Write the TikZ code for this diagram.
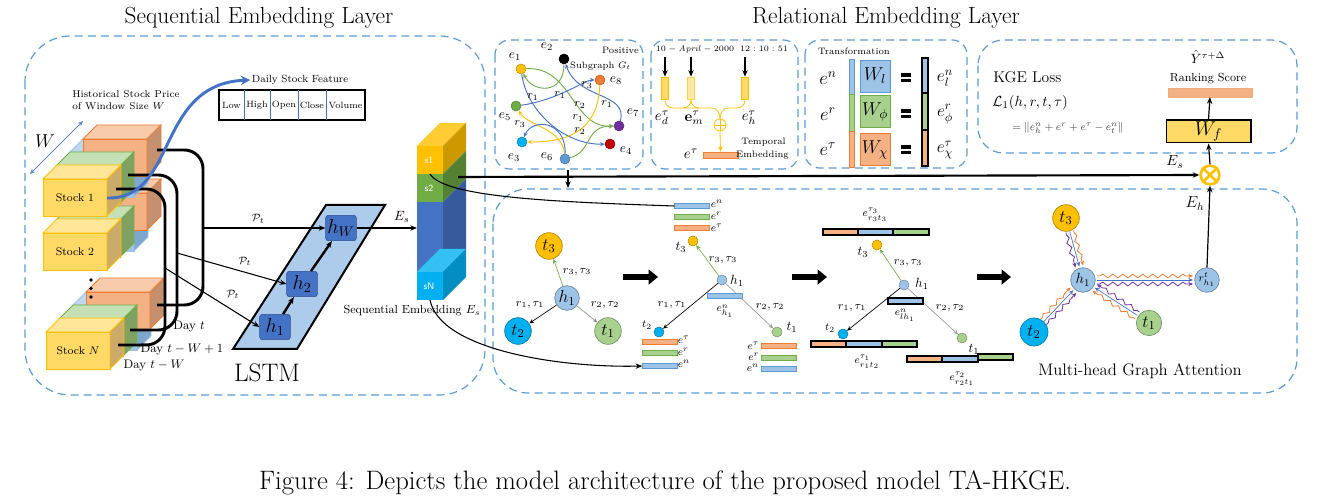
\RequirePackage{fix-cm}
\documentclass[tikz,border=0pt]{standalone}
\usepackage{amsmath,amssymb}
\usetikzlibrary{arrows.meta,decorations.pathmorphing,calc}
\definecolor{dashblue}{HTML}{5B9BD5}
\definecolor{myyellow}{HTML}{FFC000}
\definecolor{lyel}{HTML}{FFD966}
\definecolor{mygreen}{HTML}{70AD47}
\definecolor{lgr}{HTML}{A9D18E}
\definecolor{myorange}{HTML}{ED7D31}
\definecolor{salmon}{HTML}{F4B183}
\definecolor{myblue}{HTML}{4472C4}
\definecolor{lbl}{HTML}{9DC3E6}
\definecolor{mycyan}{HTML}{00B0F0}
\definecolor{mypurple}{HTML}{7030A0}
\definecolor{myred}{HTML}{C00000}
\definecolor{lstm}{HTML}{ADCBEA}
\definecolor{cyF}{HTML}{FFD966}\definecolor{cyT}{HTML}{FFE699}\definecolor{cyS}{HTML}{CCAA6A}
\definecolor{cgF}{HTML}{A9D18E}\definecolor{cgT}{HTML}{C5E0B4}\definecolor{cgS}{HTML}{7FA262}
\definecolor{coF}{HTML}{F4B183}\definecolor{coT}{HTML}{F8CBAD}\definecolor{coS}{HTML}{C4906F}
\definecolor{cbF}{HTML}{9DC3E6}\definecolor{cbT}{HTML}{BDD7EE}\definecolor{cbS}{HTML}{7FA6CC}
\newcommand{\mycube}[9]{%
  \filldraw[draw=#9,fill=#6,line width=0.6pt] (#1,#2) rectangle ++(#3,#4);
  \filldraw[draw=#9,fill=#7,line width=0.6pt] (#1,#2) -- ++(#5,-#5) -- ++(#3,0) -- ++(-#5,#5) -- cycle;
  \filldraw[draw=#9,fill=#8,line width=0.6pt] (#1+#3,#2) -- ++(#5,-#5) -- ++(0,#4) -- ++(-#5,#5) -- cycle;}
\newcommand{\stockgroup}[2]{%
  \mycube{#1+27}{#2-27}{64}{45}{14}{cbF}{cbT}{cbS}{cbF}
  \mycube{#1+40}{#2-40}{64}{37}{14}{coF}{coT}{coS}{myorange}
  \mycube{#1+13}{#2-13}{64}{37}{14}{cgF}{cgT}{cgS}{mygreen}
  \mycube{#1}{#2}{64}{37}{14}{cyF}{cyT}{cyS}{myyellow}}
\newcommand{\wv}[2]{%
  \coordinate (wA) at ($(#1)!10.5pt!(#2)$);
  \coordinate (wB) at ($(#2)!10.5pt!(#1)$);
  \draw[-{Stealth[length=3.5pt,width=3pt]}, myblue, line width=0.5pt] (wA) -- (wB);
  \draw[-{Stealth[length=3.5pt,width=3pt]}, myorange, line width=0.6pt, decorate, decoration={snake, amplitude=1.4pt, segment length=7.5pt, post length=4pt, pre length=2pt}] ($(wA)!3pt!90:(wB)$) -- ($(wB)!3pt!-90:(wA)$);
  \draw[-{Stealth[length=3.5pt,width=3pt]}, mypurple, line width=0.6pt, decorate, decoration={snake, amplitude=1.4pt, segment length=7.5pt, post length=4pt, pre length=2pt}] ($(wA)!3pt!-90:(wB)$) -- ($(wB)!3pt!90:(wA)$);}
\tikzset{
  panel/.style={draw=dashblue, line width=0.9pt, dash pattern=on 6pt off 3.8pt},
  gn/.style={circle, inner sep=0pt, minimum size=7.5pt, draw=#1!75!black, fill=#1, line width=0.4pt},
  glab/.style={font=\fontsize{10}{10}\selectfont, inner sep=0pt},
  rlab/.style={font=\fontsize{8.5}{8.5}\selectfont, inner sep=0pt},
  ge/.style={-{Stealth[length=3.5pt,width=3pt]}, line width=0.7pt},
  hbox/.style={rectangle, rounded corners=2pt, fill=myblue, draw=myblue!70!black, minimum width=23pt, minimum height=19pt, inner sep=0pt, font=\fontsize{15}{15}\selectfont},
  big/.style={circle, inner sep=0pt, minimum size=20pt, draw=#1!70!black, fill=#1, line width=0.5pt, font=\fontsize{13}{13}\selectfont},
  sm/.style={circle, inner sep=0pt, minimum size=7.5pt, draw=#1!70!black, fill=#1, line width=0.4pt},
  bar/.style={rectangle, inner sep=0pt, minimum width=26pt, minimum height=3.8pt, line width=0.6pt},
  barB/.style={bar, fill=lbl, draw=dashblue},
  barG/.style={bar, fill=lgr, draw=mygreen},
  barO/.style={bar, fill=salmon, draw=myorange},
  lab/.style={font=\fontsize{8}{8}\selectfont, inner sep=0.5pt},
  tlab/.style={font=\fontsize{10}{10}\selectfont, inner sep=0.5pt},
  block/.style={-{Triangle[length=7pt,width=11pt]}, line width=4pt},
  wbox/.style={rectangle, inner sep=0pt, minimum width=22.5pt, minimum height=24pt, line width=0.6pt, font=\fontsize{14}{14}\selectfont},
}
\begin{document}
\begin{tikzpicture}[x=0.75pt,y=-0.75pt,>={Stealth[length=5pt,width=4pt]}]
\useasboundingbox (0,0) rectangle (1329,498);

% ---------- titles and caption
\node[font=\fontsize{17.5}{20}\selectfont] (titleA) at (259,18) {Sequential Embedding Layer};
\node[font=\fontsize{17.5}{20}\selectfont] (titleB) at (886,18) {Relational Embedding Layer};
\node[font=\fontsize{20}{24}\selectfont] (cap) at (665,483) {Figure 4: Depicts the model architecture of the proposed model TA-HKGE.};

% ---------- panels
\draw[panel, rounded corners=34pt] (25,36) rectangle (485,395);
\draw[panel, rounded corners=11pt] (495,40) rectangle (643,169);
\draw[panel, rounded corners=11pt] (651,40) rectangle (798,169);
\draw[panel, rounded corners=11pt] (805,40) rectangle (967,168);
\draw[panel, rounded corners=19pt] (978,40) rectangle (1297,153);
\draw[panel, rounded corners=26pt] (493,189) rectangle (1297,393);

% ---------- stock cubes
\stockgroup{46}{332}
\stockgroup{43}{233}
\stockgroup{43}{179}
\node[font=\fontsize{8.3}{8.3}\selectfont] (st1) at (75,198) {Stock 1};
\node[font=\fontsize{8.3}{8.3}\selectfont] (st2) at (75,252) {Stock 2};
\node[font=\fontsize{8.3}{8.3}\selectfont] (stN) at (78,351) {Stock $N$};
\fill (91,280) circle (1.4pt) (91,288.5) circle (1.4pt) (91,297) circle (1.4pt);

\node[font=\fontsize{7.4}{7.4}\selectfont, anchor=west, inner sep=0pt] (hist1) at (72,94) {Historical Stock Price};
\node[font=\fontsize{7.4}{7.4}\selectfont, anchor=west, inner sep=0pt] (hist2) at (72,106) {of Window Size $W$};
\coordinate (wa) at (30,174);
\coordinate (wb) at (83,121);
\draw[{Stealth[length=4pt,width=3.5pt]}-{Stealth[length=4pt,width=3.5pt]}, myblue!85, line width=0.6pt] (wa) -- (wb);
\node[font=\fontsize{14}{14}\selectfont] (Wlab) at (45,141) {$W$};

% brackets
\draw[line width=2.2pt, rounded corners=14pt] (157,150) -- (203,150) -- (203,305) -- (157,305);
\draw[line width=2.2pt, rounded corners=14pt] (128,175) -- (177,175) -- (177,330) -- (130,330);
\draw[line width=2.2pt, rounded corners=14pt] (116,189) -- (165,189) -- (165,345) -- (118,345);
\node[font=\fontsize{9.3}{9.3}\selectfont] (d1) at (189,327) {Day $t$};
\node[font=\fontsize{9.3}{9.3}\selectfont] (d2) at (182,350) {Day $t-W+1$};
\node[font=\fontsize{9.3}{9.3}\selectfont] (d3) at (154,366) {Day $t-W$};

% daily stock feature
\coordinate (bstart) at (107,198);
\node[font=\fontsize{7.8}{7.8}\selectfont, inner sep=1pt] (dsf) at (300,80) {Daily Stock Feature};
\draw[-{Stealth[length=7pt,width=7pt]}, myblue, line width=2.2pt] (bstart) .. controls (178,200) and (155,84) .. (dsf.west);
\draw[line width=1.4pt] (219,90) rectangle (365,120);
\draw[myblue, line width=0.5pt] (244,90) -- (244,120) (270,90) -- (270,120) (298,90) -- (298,120) (326,90) -- (326,120);
\begin{scope}[every node/.style={font=\fontsize{6.8}{6.8}\selectfont, inner sep=0pt}]
\node (cL) at (231.5,105) {Low};
\node (cH) at (257,105) {High};
\node (cO) at (284,105) {Open};
\node (cC) at (312,105) {Close};
\node (cV) at (345.5,105) {Volume};
\end{scope}

% LSTM
\filldraw[fill=lstm, line width=1.5pt] (233,349) -- (297,349) -- (385,205) -- (326,205) -- cycle;
\node[hbox] (hW) at (341,228) {$h_W$};
\node[hbox] (h2) at (302,284) {$h_2$};
\node[hbox] (h1) at (275,327) {$h_1$};
\draw[->, line width=1.8pt] (h1) -- (h2);
\draw[->, line width=1.8pt] (h2) -- (hW);
\node[font=\fontsize{19}{19}\selectfont] (lstmlab) at (267,373) {LSTM};
\coordinate (p1) at (203,228);
\coordinate (p2) at (177,253);
\coordinate (p3) at (165,268);
\draw[->, line width=0.8pt] (p1) -- node[above, font=\fontsize{8}{8}\selectfont, pos=0.45] {$\mathcal{P}_t$} (hW.west);
\draw[->, line width=0.8pt] (p2) -- node[above, font=\fontsize{8}{8}\selectfont, pos=0.62, yshift=1pt] {$\mathcal{P}_t$} (h2.west);
\draw[->, line width=0.8pt] (p3) -- node[above right, font=\fontsize{8}{8}\selectfont, pos=0.6] {$\mathcal{P}_t$} (h1.west);

% embedding stack
\fill[myyellow] (417,146) rectangle (443,174);
\fill[myyellow!80!white] (417,146) -- (440,123) -- (466,123) -- (443,146) -- cycle;
\fill[myyellow!80!black] (443,146) -- (466,123) -- (466,151) -- (443,174) -- cycle;
\fill[mygreen] (417,174) rectangle (443,202);
\fill[mygreen!75!black] (443,174) -- (466,151) -- (466,179) -- (443,202) -- cycle;
\fill[myblue] (417,202) rectangle (443,272);
\fill[myblue!80!black] (443,202) -- (466,179) -- (466,249) -- (443,272) -- cycle;
\fill[mycyan!80!white] (417,272) -- (440,249) -- (466,249) -- (443,272) -- cycle;
\fill[mycyan] (417,272) rectangle (443,300);
\fill[mycyan!80!black] (443,272) -- (466,249) -- (466,277) -- (443,300) -- cycle;
\node[font=\sffamily\fontsize{7}{7}\selectfont, text=white] (s1) at (429,160) {s1};
\node[font=\sffamily\fontsize{7}{7}\selectfont, text=white] (s2) at (429,188) {s2};
\node[font=\sffamily\fontsize{7}{7}\selectfont, text=white] (sN) at (429,286) {sN};
\coordinate (stackin) at (417,228);
\draw[->, line width=0.9pt] (hW.east) -- node[above, font=\fontsize{10}{10}\selectfont, pos=0.75] {$E_s$} (stackin);
\node[font=\fontsize{8.8}{8.8}\selectfont] (seqemb) at (412,311) {Sequential Embedding $E_s$};
\coordinate (s1c) at (430,174);
\coordinate (s2c) at (458,177);
\coordinate (sNc) at (430,300);

% ---------- subgraph panel
\node[gn=myyellow] (e1) at (521,69) {};
\node[gn=black] (e2) at (564,59) {};
\node[gn=myorange] (e8) at (600,80) {};
\node[gn=mygreen] (e5) at (516,106) {};
\node[gn=mypurple] (e7) at (619,126) {};
\node[gn=mycyan] (e3) at (522,142) {};
\node[gn=dashblue] (e6) at (565,159) {};
\node[gn=myred] (e4) at (610,144) {};
\node[glab] (le1) at (515,57) {$e_1$};
\node[glab] (le2) at (547,47) {$e_2$};
\node[glab] (le8) at (616,81) {$e_8$};
\node[glab] (le5) at (505,117) {$e_5$};
\node[glab] (le7) at (633,113) {$e_7$};
\node[glab] (le3) at (514,158) {$e_3$};
\node[glab] (le6) at (547,157) {$e_6$};
\node[glab] (le4) at (626,151) {$e_4$};
\node[font=\fontsize{7}{7}\selectfont, anchor=east, inner sep=0pt] (pos) at (639,50) {Positive};
\node[font=\fontsize{7}{7}\selectfont, anchor=east, inner sep=0pt] (subg) at (631,66) {Subgraph $G_t$};
\draw[ge, mygreen] (e2) .. controls (564,95) and (533,93) .. (e1);
\draw[ge, mygreen] (e1) .. controls (572,66) and (572,128) .. (e7);
\draw[ge, myblue] (e1) .. controls (527,112) and (565,145) .. (e4);
\draw[ge, myblue] (e5) .. controls (558,100) and (585,80) .. (e8);
\draw[ge, myblue] (e7) .. controls (628,92) and (578,100) .. (e2);
\draw[ge, myyellow] (e8) .. controls (598,135) and (562,142) .. (e3);
\draw[ge, myyellow] (e6) .. controls (562,128) and (528,126) .. (e5);
\draw[ge, myblue] (e6) .. controls (566,120) and (532,118) .. (e3);
\draw[ge, mygreen] (e6) .. controls (592,152) and (585,126) .. (e7);
\node[rlab] (r3a) at (587,85) {$r_3$};
\node[rlab] (r1a) at (533,97) {$r_1$};
\node[rlab] (r1b) at (560,95) {$r_1$};
\node[rlab] (r2a) at (580,105) {$r_2$};
\node[rlab] (r1c) at (607,104) {$r_1$};
\node[rlab] (r1d) at (578,118) {$r_1$};
\node[rlab] (r3b) at (520,124) {$r_3$};
\node[rlab] (r2b) at (580,131) {$r_2$};
\coordinate (sgb) at (568,170);
\coordinate (bpt) at (568,188);
\draw[->, line width=1.6pt] (sgb) -- (bpt);

% ---------- temporal panel
\node[font=\fontsize{6.2}{6.2}\selectfont, inner sep=0pt] (date) at (695,49) {$10-\mathit{April}-2000$};
\node[font=\fontsize{6.2}{6.2}\selectfont, inner sep=0pt] (time) at (764,49) {$12:10:51$};
\node[rectangle, inner sep=0pt, minimum width=5pt, minimum height=17pt, fill=lyel, draw=myyellow, line width=0.6pt] (bd) at (665,88.5) {};
\node[rectangle, inner sep=0pt, minimum width=5pt, minimum height=17pt, fill=lyel!60!white, draw=myyellow!70!white, line width=0.6pt] (bm) at (691,88.5) {};
\node[rectangle, inner sep=0pt, minimum width=5pt, minimum height=17pt, fill=lyel, draw=myyellow, line width=0.6pt] (bh) at (745,88.5) {};
\coordinate (ad) at (665,57); \coordinate (am) at (691,57); \coordinate (ah) at (745,57);
\draw[->, line width=1.5pt] (ad) -- (bd.north);
\draw[->, line width=1.5pt] (am) -- (bm.north);
\draw[->, line width=1.5pt] (ah) -- (bh.north);
\node[circle, draw=myyellow, line width=0.6pt, minimum size=9pt, inner sep=0pt] (oplus) at (720,125) {};
\draw[myyellow, line width=0.6pt] (oplus.north) -- (oplus.south) (oplus.west) -- (oplus.east);
\draw[myyellow, line width=0.6pt] (bd.south) to[out=-90,in=180] (673,108) -- (712,108) to[out=0,in=90] (oplus.north);
\draw[myyellow, line width=0.6pt] (bm.south) to[out=-90,in=180] (699,108);
\draw[myyellow, line width=0.6pt] (bm.south) to[out=-90,in=0] (683,108);
\draw[myyellow, line width=0.6pt] (bh.south) to[out=-90,in=0] (737,108) -- (728,108) to[out=180,in=90] (oplus.north);
\node[rectangle, inner sep=0pt, minimum width=26pt, minimum height=4.5pt, fill=salmon, draw=myorange, line width=0.5pt] (etau) at (720.5,155) {};
\draw[-{Stealth[length=4pt,width=3.5pt]}, myyellow, line width=0.6pt] (oplus.south) -- (etau.north);
\node[font=\fontsize{11}{11}\selectfont] (led) at (662,118) {$e_d^\tau$};
\node[font=\fontsize{11}{11}\selectfont] (lem) at (694,118) {$\mathbf{e}_m^\tau$};
\node[font=\fontsize{11}{11}\selectfont] (leh) at (749,118) {$e_h^\tau$};
\node[font=\fontsize{11}{11}\selectfont] (let) at (691,154) {$e^\tau$};
\node[font=\fontsize{7}{7}\selectfont, anchor=east, inner sep=0pt] (tmp1) at (786,142) {Temporal};
\node[font=\fontsize{7}{7}\selectfont, anchor=east, inner sep=0pt] (tmp2) at (789,155) {Embedding};

% ---------- transformation panel
\node[font=\fontsize{7}{7}\selectfont, inner sep=0pt] (trans) at (854,51) {Transformation};
\node[font=\fontsize{14}{14}\selectfont] (ten) at (828,78) {$e^n$};
\node[font=\fontsize{14}{14}\selectfont] (ter) at (828,114) {$e^r$};
\node[font=\fontsize{14}{14}\selectfont] (tet) at (828,149) {$e^\tau$};
\filldraw[fill=lbl, draw=dashblue, line width=0.5pt] (849,59) rectangle (854,94);
\filldraw[fill=lgr, draw=mygreen, line width=0.5pt] (849,94) rectangle (854,131);
\filldraw[fill=salmon, draw=myorange, line width=0.5pt] (849,131) rectangle (854,167);
\node[wbox, fill=lbl, draw=dashblue] (Wl) at (875,76) {$W_l$};
\node[wbox, fill=lgr, draw=mygreen] (Wp) at (875,111.5) {$W_\phi$};
\node[wbox, fill=salmon, draw=myorange] (Wx) at (875,149.5) {$W_\chi$};
\foreach \yy in {78,114,150} {
  \fill (901,\yy-4.5) rectangle (911,\yy-1.3);
  \fill (901,\yy+1.3) rectangle (911,\yy+4.5);
}
\filldraw[fill=lbl, draw=black, line width=1pt] (922,58) rectangle (928,93);
\filldraw[fill=lgr, draw=black, line width=1pt] (922,93) rectangle (928,130);
\filldraw[fill=salmon, draw=black, line width=1pt] (922,130) rectangle (928,166);
\node[font=\fontsize{13}{13}\selectfont] (tln) at (945,78) {$e_l^n$};
\node[font=\fontsize{13}{13}\selectfont] (tlr) at (945,114) {$e_\phi^r$};
\node[font=\fontsize{13}{13}\selectfont] (tlt) at (945,150) {$e_\chi^\tau$};

% ---------- KGE panel
\node[font=\fontsize{11.7}{11.7}\selectfont, anchor=west, inner sep=0pt] (kge) at (993,77) {KGE Loss};
\node[font=\fontsize{11}{11}\selectfont, anchor=west, inner sep=0pt] (l1) at (992,103) {$\mathcal{L}_1(h,r,t,\tau)$};
\node[font=\fontsize{8}{8}\selectfont, anchor=west, inner sep=0pt, text=black!75] (l2) at (1012,128) {$=\Vert e_h^n+e^r+e^\tau-e_t^n\Vert$};
\node[font=\fontsize{10}{10}\selectfont] (yhat) at (1208,57) {$\hat{Y}^{\tau+\Delta}$};
\node[font=\fontsize{8.8}{8.8}\selectfont] (rank) at (1208,79) {Ranking Score};
\node[rectangle, inner sep=0pt, minimum width=63pt, minimum height=6.5pt, fill=salmon, draw=salmon!90!myorange, line width=0.4pt] (rbar) at (1210,92.5) {};
\node[rectangle, inner sep=0pt, minimum width=63.5pt, minimum height=17pt, fill=lyel, draw=black, line width=1pt, font=\fontsize{15}{15}\selectfont] (Wf) at (1208.5,131.5) {$W_f$};
\node[circle, draw=myyellow, line width=2pt, minimum size=14pt, inner sep=0pt] (ox) at (1210,175) {};
\draw[myyellow, line width=2pt] (ox.45) -- (ox.225) (ox.135) -- (ox.-45);
\draw[->, line width=0.9pt] (Wf.north) -- (rbar.south);
\draw[->, line width=0.9pt] (ox.north) -- (Wf.south);
\draw[->, line width=1.6pt] (s2c) -- (ox.west);
\node[font=\fontsize{11}{11}\selectfont] (Eslab) at (1175,162) {$E_s$};

% ---------- bottom panel: first diagram
\node[big=myyellow] (A3) at (549,246) {$t_3$};
\node[big=lbl, minimum size=18.5pt] (Ah) at (567,298) {$h_1$};
\node[big=mycyan] (A2) at (518,331) {$t_2$};
\node[big=lgr] (A1) at (608,331) {$t_1$};
\draw[ge, mygreen, line width=0.5pt] (Ah) -- (A3);
\draw[ge, black, line width=0.5pt] (Ah) -- (A2);
\draw[ge, black!45, line width=0.5pt] (Ah) -- (A1);
\node[rlab] (Ar3) at (577,272) {$r_3,\tau_3$};
\node[rlab] (Ar1) at (530,305) {$r_1,\tau_1$};
\node[rlab] (Ar2) at (605,305) {$r_2,\tau_2$};
\coordinate (k1a) at (623,277); \coordinate (k1b) at (658,277);
\draw[block] (k1a) -- (k1b);

% second diagram
\node[barB] (Bn) at (692,206) {};
\node[barG] (Br) at (692,217) {};
\node[barO] (Bt) at (692,228) {};
\node[lab, anchor=west] (lBn) at (710,204) {$e^n$};
\node[lab, anchor=west] (lBr) at (710,216) {$e^r$};
\node[lab, anchor=west] (lBt) at (710,228) {$e^\tau$};
\node[sm=myyellow] (B3) at (693,241) {};
\node[sm=lbl] (Bh) at (722,280) {};
\node[sm=mycyan] (B2) at (659,332) {};
\node[sm=lgr] (B1) at (777,332) {};
\node[tlab] (lB3) at (681,247) {$t_3$};
\node[tlab] (lBh) at (737,281) {$h_1$};
\node[lab] (lB2) at (647,325) {$t_2$};
\node[tlab] (lB1) at (792,327) {$t_1$};
\draw[ge, mygreen, line width=0.5pt] (Bh) -- (B3);
\draw[ge, black, line width=0.5pt] (Bh) -- (B2);
\draw[ge, black!40, line width=0.5pt] (Bh) -- (B1);
\node[barB] (Beh) at (725,296) {};
\node[lab] (lBeh) at (725,311) {$e^n_{h_1}$};
\node[rlab] (Br3) at (723,260) {$r_3,\tau_3$};
\node[rlab] (Br1) at (672,305) {$r_1,\tau_1$};
\node[rlab] (Br2) at (770,307) {$r_2,\tau_2$};
\node[barO] (Ct) at (660,342) {};
\node[barG] (Cr) at (660,353) {};
\node[barB] (Cn) at (660,366) {};
\node[lab, anchor=west] (lCt) at (677,340) {$e^\tau$};
\node[lab, anchor=west] (lCr) at (677,352) {$e^r$};
\node[lab, anchor=west] (lCn) at (677,364) {$e^n$};
\node[barO] (Dt) at (779,346) {};
\node[barG] (Dr) at (779,358) {};
\node[barB] (Dn) at (779,369) {};
\node[lab, anchor=east] (lDt) at (760,346) {$e^\tau$};
\node[lab, anchor=east] (lDr) at (760,357) {$e^r$};
\node[lab, anchor=east] (lDn) at (760,368) {$e^n$};
\draw[line width=0.8pt] (s1c) .. controls (445,198) and (560,202) .. (Bn.west);
\draw[->, line width=0.8pt] (sNc) .. controls (440,350) and (560,368) .. (Cn.west);
\coordinate (k2a) at (792,277); \coordinate (k2b) at (827,277);
\draw[block] (k2a) -- (k2b);

% third diagram
\node[lab] (lE3) at (875,215) {$e^{\tau_3}_{r_3t_3}$};
\filldraw[fill=salmon, draw=black, line width=0.8pt] (823,229) rectangle (858,235);
\filldraw[fill=lbl, draw=black, line width=0.8pt] (858,229) rectangle (893,235);
\filldraw[fill=lgr, draw=black, line width=0.8pt] (893,229) rectangle (929,235);
\node[sm=myyellow] (E3) at (877,245) {};
\node[sm=lbl] (Eh) at (904,285) {};
\node[sm=mycyan] (E2) at (843,334) {};
\node[sm=lgr] (E1) at (962,338) {};
\node[tlab] (lE3b) at (863,252) {$t_3$};
\node[tlab] (lEh) at (922,284) {$h_1$};
\node[lab] (lE2) at (830,328) {$t_2$};
\node[tlab] (lE1) at (974,349) {$t_1$};
\draw[ge, mygreen, line width=0.5pt] (Eh) -- (E3);
\draw[ge, black, line width=0.5pt] (Eh) -- (E2);
\draw[ge, black!40, line width=0.5pt] (Eh) -- (E1);
\filldraw[fill=lbl, draw=black, line width=0.8pt] (888,298) rectangle (923,304);
\node[lab] (lEeh) at (905,315) {$e^n_{lh_1}$};
\node[rlab] (Er3) at (908,263) {$r_3,\tau_3$};
\node[rlab] (Er1) at (852,308) {$r_1,\tau_1$};
\node[rlab] (Er2) at (950,308) {$r_2,\tau_2$};
\filldraw[fill=salmon, draw=black, line width=0.8pt] (811,341) rectangle (846,347);
\filldraw[fill=lbl, draw=black, line width=0.8pt] (846,341) rectangle (882,347);
\filldraw[fill=lgr, draw=black, line width=0.8pt] (882,341) rectangle (917,347);
\node[lab] (lE12) at (867,362) {$e^{\tau_1}_{r_1t_2}$};
\filldraw[fill=salmon, draw=black, line width=0.8pt] (907,356) rectangle (942,362);
\filldraw[fill=lbl, draw=black, line width=0.8pt] (942,356) rectangle (978,362);
\filldraw[fill=lgr, draw=black, line width=0.8pt] (978,354) rectangle (1013,360);
\node[lab] (lE21) at (962,379) {$e^{\tau_2}_{r_2t_1}$};
\coordinate (k3a) at (977,277); \coordinate (k3b) at (1011,277);
\draw[block] (k3a) -- (k3b);

% fourth diagram
\coordinate (F3c) at (1066,218);
\coordinate (Fhc) at (1083,280);
\coordinate (F2c) at (1034,332);
\coordinate (F1c) at (1149,323);
\coordinate (Frc) at (1207,280);
\wv{F3c}{Fhc}
\wv{F2c}{Fhc}
\wv{F1c}{Fhc}
\wv{Fhc}{Frc}
\node[big=myyellow] (F3) at (F3c) {$t_3$};
\node[big=lbl, minimum size=18.5pt, font=\fontsize{11}{11}\selectfont] (Fh) at (Fhc) {$h_1$};
\node[big=mycyan, minimum size=21pt] (F2) at (F2c) {$t_2$};
\node[big=lgr, minimum size=19pt] (F1) at (F1c) {$t_1$};
\node[big=lbl, minimum size=18.5pt, font=\fontsize{8}{8}\selectfont] (Fr) at (Frc) {$r^t_{h_1}$};
\draw[->, line width=0.9pt] (Fr.north) -- node[left, font=\fontsize{12}{12}\selectfont, pos=0.78] {$E_h$} (ox.south);
\node[font=\fontsize{12.5}{12.5}\selectfont] (mhga) at (1140,371) {Multi-head Graph Attention};

\end{tikzpicture}
\end{document}
